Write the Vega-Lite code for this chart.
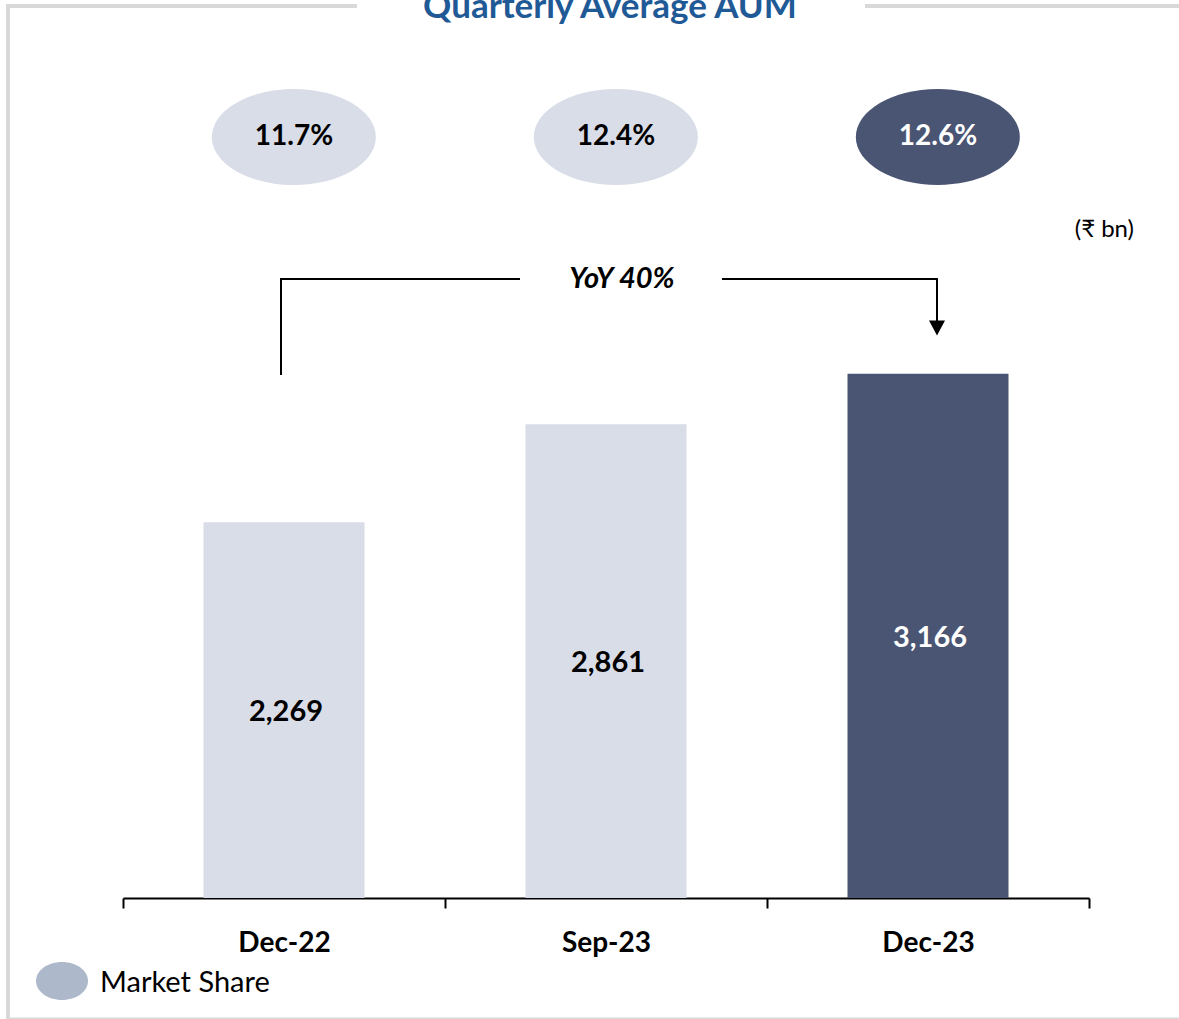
{
  "$schema": "https://vega.github.io/schema/vega-lite/v6.json",
  "width": 1179,
  "height": 898,
  "autosize": {"type": "none"},
  "padding": {"left": 0, "top": 0, "right": 0, "bottom": 121},
  "background": "#ffffff",
  "config": {"view": {"stroke": null}, "font": "Lato", "text": {"font": "Lato, Noto Sans, DejaVu Sans"}},
  "datasets": {
    "aum": [
      {"quarter": "Dec-22", "aum": 2269, "share": "11.7%", "period": "Prior"},
      {"quarter": "Sep-23", "aum": 2861, "share": "12.4%", "period": "Prior"},
      {"quarter": "Dec-23", "aum": 3166, "share": "12.6%", "period": "Current"}
    ]
  },
  "resolve": {"scale": {"x": "independent", "y": "independent"}},
  "layer": [
    {
      "data": {"name": "aum"},
      "encoding": {
        "x": {
          "field": "quarter", "type": "nominal", "sort": null,
          "scale": {"domain": ["Dec-22", "Sep-23", "Dec-23"], "range": [123, 1089], "paddingInner": 0, "paddingOuter": 0},
          "axis": {
            "orient": "bottom", "title": null, "labelAngle": 0, "labelFontSize": 28, "labelFontWeight": "bold",
            "labelColor": "#000000", "labelFont": "Lato", "labelPadding": 21, "tickSize": 10, "tickWidth": 2,
            "tickColor": "#000000", "domainColor": "#000000", "domainWidth": 2, "tickBand": "extent", "grid": false
          }
        }
      },
      "layer": [
        {
          "mark": {"type": "bar", "width": {"band": 0.5}},
          "encoding": {
            "y": {"field": "aum", "type": "quantitative", "scale": {"domain": [0, 5423], "nice": false, "zero": true}, "axis": null},
            "color": {"field": "period", "type": "nominal", "scale": {"domain": ["Prior", "Current"], "range": ["#D9DDE8", "#4A5473"]}, "legend": null}
          }
        },
        {
          "mark": {"type": "point", "shape": "M-0.88,0C-0.88,-0.3231 -0.4323,-0.585 0.12,-0.585C0.6723,-0.585 1.12,-0.3231 1.12,0C1.12,0.3231 0.6723,0.585 0.12,0.585C-0.4323,0.585 -0.88,0.3231 -0.88,0Z", "filled": true, "size": 26896, "opacity": 1, "strokeWidth": 0},
          "encoding": {
            "y": {"datum": 4596, "type": "quantitative"},
            "color": {"field": "period", "type": "nominal", "legend": null}
          }
        },
        {
          "mark": {"type": "text", "dx": 10, "fontSize": 28, "fontWeight": "bold", "baseline": "middle", "align": "center"},
          "encoding": {
            "y": {"datum": 4596, "type": "quantitative"},
            "text": {"field": "share"},
            "color": {"condition": {"test": "datum.period === 'Current'", "value": "#ffffff"}, "value": "#000000"}
          }
        }
      ]
    },
    {
      "data": {"name": "aum"},
      "mark": {"type": "text", "fontSize": 29, "fontWeight": "bold", "baseline": "middle", "align": "center", "dy": 2, "dx": 2},
      "encoding": {
        "x": {"field": "quarter", "type": "nominal", "sort": null, "scale": {"domain": ["Dec-22", "Sep-23", "Dec-23"], "range": [123, 1089], "paddingInner": 0, "paddingOuter": 0}, "axis": null},
        "y": {"field": "aum", "type": "quantitative", "scale": {"domain": [0, 10846], "nice": false, "zero": true}, "axis": null},
        "text": {"field": "aum", "type": "quantitative", "format": ","},
        "color": {"condition": {"test": "datum.period === 'Current'", "value": "#ffffff"}, "value": "#000000"}
      }
    },
    {
      "data": {"values": [{}]},
      "layer": [
        {
          "mark": {"type": "rule", "color": "#D9D9D9", "strokeWidth": 4},
          "encoding": {
            "x": {"datum": 8, "type": "quantitative", "scale": {"domain": [0, 1179], "range": [0, 1179], "nice": false, "zero": false}, "axis": null},
            "y": {"datum": 4, "type": "quantitative", "scale": {"domain": [0, 1019], "range": [0, 1019], "nice": false, "zero": false}, "axis": null},
            "y2": {"datum": 1019}
          }
        },
        {
          "mark": {"type": "rule", "color": "#D9D9D9", "strokeWidth": 4},
          "encoding": {
            "x": {"datum": 6, "type": "quantitative"},
            "x2": {"datum": 357},
            "y": {"datum": 6, "type": "quantitative"}
          }
        },
        {
          "mark": {"type": "rule", "color": "#D9D9D9", "strokeWidth": 4},
          "encoding": {
            "x": {"datum": 865, "type": "quantitative"},
            "x2": {"datum": 1179},
            "y": {"datum": 6, "type": "quantitative"}
          }
        },
        {
          "mark": {"type": "rule", "color": "#D9D9D9", "strokeWidth": 4},
          "encoding": {
            "x": {"datum": 6, "type": "quantitative"},
            "x2": {"datum": 1179},
            "y": {"datum": 1019.5, "type": "quantitative"}
          }
        },
        {
          "mark": {"type": "rule", "color": "#000000", "strokeWidth": 2},
          "encoding": {
            "x": {"datum": 281, "type": "quantitative"},
            "y": {"datum": 279, "type": "quantitative"},
            "y2": {"datum": 375}
          }
        },
        {
          "mark": {"type": "rule", "color": "#000000", "strokeWidth": 2},
          "encoding": {
            "x": {"datum": 280, "type": "quantitative"},
            "x2": {"datum": 520},
            "y": {"datum": 279, "type": "quantitative"}
          }
        },
        {
          "mark": {"type": "rule", "color": "#000000", "strokeWidth": 2},
          "encoding": {
            "x": {"datum": 722, "type": "quantitative"},
            "x2": {"datum": 938},
            "y": {"datum": 279, "type": "quantitative"}
          }
        },
        {
          "mark": {"type": "rule", "color": "#000000", "strokeWidth": 2},
          "encoding": {
            "x": {"datum": 937, "type": "quantitative"},
            "y": {"datum": 279, "type": "quantitative"},
            "y2": {"datum": 322}
          }
        },
        {
          "mark": {"type": "point", "shape": "M-1,-0.94L1,-0.94L0,0.94Z", "filled": true, "size": 256, "opacity": 1, "color": "#000000", "strokeWidth": 0},
          "encoding": {
            "x": {"datum": 937, "type": "quantitative"},
            "y": {"datum": 328, "type": "quantitative"}
          }
        },
        {
          "mark": {"type": "text", "text": "Quarterly Average AUM", "fontSize": 35, "fontWeight": "bold", "color": "#1F5A96", "align": "center", "baseline": "alphabetic"},
          "encoding": {
            "x": {"datum": 610, "type": "quantitative"},
            "y": {"datum": 18, "type": "quantitative"}
          }
        },
        {
          "mark": {"type": "text", "text": "YoY 40%", "fontSize": 29, "fontWeight": "bold", "fontStyle": "italic", "color": "#000000", "align": "center", "baseline": "middle"},
          "encoding": {
            "x": {"datum": 622, "type": "quantitative"},
            "y": {"datum": 279, "type": "quantitative"}
          }
        },
        {
          "mark": {"type": "text", "text": "(₹ bn)", "fontSize": 24, "color": "#000000", "align": "right", "baseline": "middle"},
          "encoding": {
            "x": {"datum": 1134, "type": "quantitative"},
            "y": {"datum": 230, "type": "quantitative"}
          }
        },
        {
          "mark": {"type": "point", "shape": "M-1,0C-1,-0.4032 -0.5523,-0.73 0,-0.73C0.5523,-0.73 1,-0.4032 1,0C1,0.4032 0.5523,0.73 0,0.73C-0.5523,0.73 -1,0.4032 -1,0Z", "filled": true, "size": 2704, "opacity": 1, "color": "#ADB9CA", "strokeWidth": 0},
          "encoding": {
            "x": {"datum": 62, "type": "quantitative"},
            "y": {"datum": 981, "type": "quantitative"}
          }
        },
        {
          "mark": {"type": "text", "text": "Market Share", "fontSize": 29, "color": "#000000", "align": "left", "baseline": "middle"},
          "encoding": {
            "x": {"datum": 100, "type": "quantitative"},
            "y": {"datum": 983, "type": "quantitative"}
          }
        }
      ]
    }
  ]
}
